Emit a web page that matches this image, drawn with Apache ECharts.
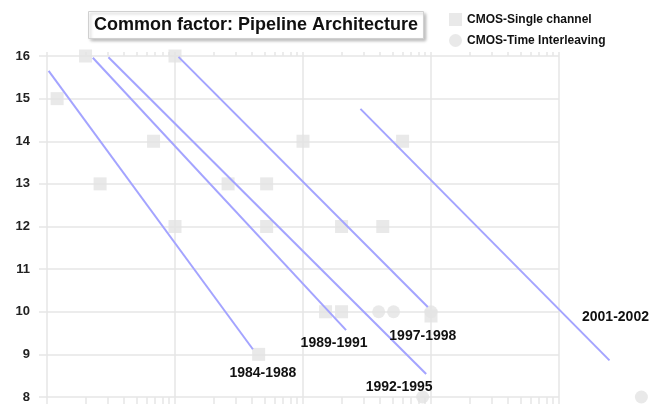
<!DOCTYPE html>
<html lang="en">
<head>
    <meta charset="UTF-8">
    <title>Pipeline ADC</title>
    <script src="https://cdn.jsdelivr.net/npm/echarts@6/dist/echarts.min.js"></script>
    <style>
        html, body { margin: 0; padding: 0; background: #fff; }
    </style>
</head>
<body>
<div id="main" style="width: 654px;height:414px;"></div>
<script>
    // sampling rate (MS/s, log axis) and resolution (bits)
    var singleX    = [0.12, 0.2, 0.26, 0.68, 1, 1, 2.6, 5.2, 5.2, 10, 15, 20, 20, 42, 60, 4.5, 100];
    var singleBits = [15, 16, 13, 14, 16, 12, 13, 13, 12, 14, 10, 10, 12, 12, 14, 9, 9.9];

    var interX    = [39, 51, 100, 86, 4400];
    var interBits = [10, 10, 10, 8, 8];

    // figure-of-merit lines, one per period
    var lineNames     = ['1984-1988', '1989-1991', '1992-1995', '1997-1998', '2001-2002'];
    var lineStartX    = [0.103, 0.228, 0.302, 1.065, 28.1];
    var lineStartBits = [15.65, 15.96, 15.97, 15.98, 14.76];
    var lineEndX      = [4.06, 21.7, 91.7, 94.4, 2480];
    var lineEndBits   = [9.12, 9.57, 8.54, 10.11, 8.86];
    // where each period label sits relative to the end of its line (px)
    var labelOffset   = [[10, 24], [-12, 13], [-27, 13], [-5, 29], [6, -43]];

    var yTicks = [8, 9, 10, 11, 12, 13, 14, 15, 16];

    var font = 'Liberation Sans, Arial, sans-serif';
    var gridColor = '#e6e6e6';

    // log tick marks 1..9 x 10^n
    var logTicks = [];
    for (var e = -1; e <= 3; e++) {
        for (var k = 1; k <= 9; k++) {
            var v = +(k * Math.pow(10, e)).toPrecision(3);
            if (v <= 1000) logTicks.push(v);
        }
    }

    function pairs(xs, ys) {
        var out = [];
        for (var i = 0; i < xs.length; i++) out.push([xs[i], ys[i]]);
        return out;
    }

    var lineData = [];
    for (var i = 0; i < lineNames.length; i++) {
        lineData.push([lineStartX[i], lineStartBits[i], lineEndX[i], lineEndBits[i], i]);
    }

    // the lines run past the right edge of the grid, so draw them ourselves
    function renderLine(params, api) {
        var idx = api.value(4);
        var p1 = api.coord([api.value(0), api.value(1)]);
        var p2 = api.coord([api.value(2), api.value(3)]);
        var off = labelOffset[idx];
        return {
            type: 'group',
            children: [
                {
                    type: 'line',
                    shape: { x1: p1[0], y1: p1[1], x2: p2[0], y2: p2[1] },
                    style: { stroke: '#a4a4ff', lineWidth: 2 }
                },
                {
                    type: 'text',
                    x: p2[0] + off[0],
                    y: p2[1] + off[1],
                    style: {
                        text: lineNames[idx],
                        align: 'center',
                        verticalAlign: 'middle',
                        fill: '#111',
                        font: 'bold 14px ' + font
                    }
                }
            ]
        };
    }

    var tickAxis = function (pos, len) {
        return {
            type: 'log',
            position: pos,
            min: 0.1,
            max: 1000,
            axisLine: { show: false },
            axisLabel: { show: false },
            splitLine: { show: false },
            axisTick: {
                show: true,
                inside: false,
                length: len,
                customValues: logTicks,
                lineStyle: { color: gridColor, width: 1.5 }
            }
        };
    };

    var myChart = echarts.init(document.getElementById('main'));
    var option = {
        animation: false,
        backgroundColor: '#fff',
        title: {
            text: 'Common factor: Pipeline Architecture',
            left: 88,
            top: 11,
            padding: [5, 6],
            backgroundColor: '#fff',
            borderColor: '#d0d0d0',
            borderWidth: 1,
            shadowColor: 'rgba(0,0,0,0.25)',
            shadowBlur: 3,
            shadowOffsetX: 2,
            shadowOffsetY: 2,
            textStyle: {
                color: '#111',
                fontSize: 18,
                fontWeight: 'bold',
                fontFamily: font
            }
        },
        legend: {
            orient: 'vertical',
            left: 449,
            top: 13,
            itemWidth: 13,
            itemHeight: 13,
            itemGap: 8,
            padding: 0,
            data: [
                { name: 'CMOS-Single channel', icon: 'rect' },
                { name: 'CMOS-Time Interleaving', icon: 'circle' }
            ],
            textStyle: {
                color: '#111',
                fontSize: 12,
                fontWeight: 'bold',
                fontFamily: font
            }
        },
        grid: { left: 47, right: 95, top: 56, bottom: 17, containLabel: false },
        xAxis: [
            {
                type: 'log',
                position: 'bottom',
                min: 0.1,
                max: 1000,
                axisLine: { show: false },
                axisTick: { show: false },
                axisLabel: { show: false },
                splitLine: { show: true, lineStyle: { color: gridColor, width: 1.5 } }
            },
            tickAxis('bottom', 7),
            tickAxis('top', 4)
        ],
        yAxis: {
            type: 'value',
            min: yTicks[0],
            max: yTicks[yTicks.length - 1],
            interval: 1,
            axisLine: { show: false },
            axisTick: { show: true, length: 8, lineStyle: { color: gridColor, width: 1.5 } },
            axisLabel: {
                margin: 17,
                color: '#222',
                fontSize: 13,
                fontWeight: 'bold',
                fontFamily: font
            },
            splitLine: { show: true, lineStyle: { color: gridColor, width: 1.5 } }
        },
        series: [
            {
                name: 'CMOS-Single channel',
                type: 'scatter',
                symbol: 'rect',
                symbolSize: 13,
                clip: false,
                itemStyle: { color: '#e3e3e3' },
                data: pairs(singleX, singleBits),
                z: 2
            },
            {
                name: 'CMOS-Time Interleaving',
                type: 'scatter',
                symbol: 'circle',
                symbolSize: 13,
                clip: false,
                itemStyle: { color: '#e3e3e3' },
                data: pairs(interX, interBits),
                z: 2
            },
            {
                name: 'periods',
                type: 'custom',
                silent: true,
                clip: false,
                renderItem: renderLine,
                encode: { x: [0, 2], y: [1, 3] },
                data: lineData,
                z: 3
            }
        ]
    };
    myChart.setOption(option);
</script>
</body>
</html>
